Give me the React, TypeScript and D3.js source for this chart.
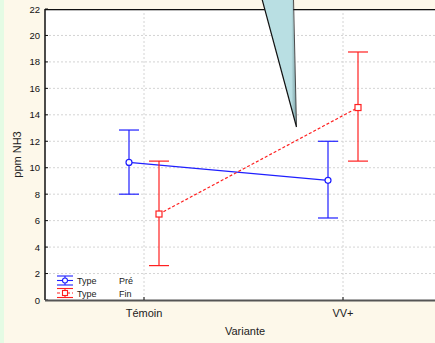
import React from "react";
import * as d3 from "d3";

const categories = ["Témoin", "VV+"];
const seriesNames = ["Pré", "Fin"];
const preMean = [10.4, 9.05];
const preLow = [8.0, 6.2];
const preHigh = [12.85, 12.0];
const finMean = [6.5, 14.55];
const finLow = [2.6, 10.5];
const finHigh = [10.5, 18.75];
const yTicks = [0, 2, 4, 6, 8, 10, 12, 14, 16, 18, 20, 22];

const W = 435, H = 343;
const left = 45, top = 9, bottom = 300, right = 435;

export default function App() {
  const y = d3.scaleLinear().domain([0, 22]).range([bottom, top]);
  const x = d3.scalePoint<string>().domain(categories).range([144, 343]);
  const off = 15;
  const series = [
    { name: seriesNames[0], mean: preMean, lo: preLow, hi: preHigh, color: "#1f1fff", dx: -off, dash: undefined as string | undefined, marker: "circle" },
    { name: seriesNames[1], mean: finMean, lo: finLow, hi: finHigh, color: "#ff2020", dx: off, dash: "3,2", marker: "square" },
  ];
  const line = d3.line<number>().x((_, i) => (x(categories[i]) as number)).y((d) => y(d));
  const font = "'Liberation Sans', Arial, sans-serif";
  return (
    <svg width={W} height={H} style={{ position: "absolute", left: 0, top: 0 }} fontFamily={font}>
      <rect x={0} y={0} width={W} height={H} fill="#fdf8ea" />
      <rect x={0} y={0} width={4} height={H} fill="#e4fbe4" />
      <rect x={left} y={top} width={right - left} height={bottom - top} fill="#ffffff" />
      {/* grid */}
      {yTicks.filter((t) => t > 0 && t < 22).map((t) => (
        <line key={t} x1={left} x2={right} y1={y(t)} y2={y(t)} stroke="#d4d4d4" strokeDasharray="2,2" strokeWidth={1} />
      ))}
      {categories.map((c) => (
        <line key={c} x1={x(c)} x2={x(c)} y1={top} y2={bottom} stroke="#d4d4d4" strokeDasharray="2,2" strokeWidth={1} />
      ))}
      {/* top border */}
      <line x1={left} x2={right} y1={top + 0.5} y2={top + 0.5} stroke="#111" strokeWidth={1.2} />
      <line x1={left} x2={right} y1={top + 1.5} y2={top + 1.5} stroke="#bbb" strokeWidth={1} />
      {/* left axis */}
      <line x1={left} x2={left} y1={top} y2={bottom} stroke="#111" strokeWidth={1.5} />
      {yTicks.map((t) => (
        <g key={t}>
          <line x1={left} x2={left + 3} y1={y(t)} y2={y(t)} stroke="#111" />
          <text x={left - 5} y={y(t) + 3.5} fontSize={9.5} textAnchor="end" fill="#111">{t}</text>
        </g>
      ))}
      {/* bottom axis */}
      <line x1={left} x2={right} y1={bottom + 0.5} y2={bottom + 0.5} stroke="#555" strokeWidth={2} />
      {categories.map((c) => (
        <g key={c}>
          <line x1={x(c)} x2={x(c)} y1={bottom - 3} y2={bottom} stroke="#111" />
          <text x={x(c)} y={bottom + 17} fontSize={11} textAnchor="middle" fill="#222">{c}</text>
        </g>
      ))}
      <text x={245} y={335} fontSize={11} textAnchor="middle" fill="#222">Variante</text>
      <text transform={`translate(21,${(top + bottom) / 2}) rotate(-90)`} fontSize={11} textAnchor="middle" fill="#222">ppm NH3</text>
      {/* series */}
      {series.map((s) => (
        <g key={s.name} transform={`translate(${s.dx},0)`}>
          <path d={line(s.mean) || ""} fill="none" stroke={s.color} strokeWidth={1.2} strokeDasharray={s.dash} />
          {categories.map((c, i) => {
            const cx = x(c) as number;
            return (
              <g key={c}>
                <line x1={cx} x2={cx} y1={y(s.lo[i])} y2={y(s.hi[i])} stroke={s.color} strokeWidth={1.2} />
                <line x1={cx - 10} x2={cx + 10} y1={y(s.lo[i])} y2={y(s.lo[i])} stroke={s.color} strokeWidth={1.2} />
                <line x1={cx - 10} x2={cx + 10} y1={y(s.hi[i])} y2={y(s.hi[i])} stroke={s.color} strokeWidth={1.2} />
                {s.marker === "circle" ? (
                  <circle cx={cx} cy={y(s.mean[i])} r={3} fill="#fff" stroke={s.color} strokeWidth={1.2} />
                ) : (
                  <rect x={cx - 3} y={y(s.mean[i]) - 3} width={6} height={6} fill="#fff" stroke={s.color} strokeWidth={1.2} />
                )}
              </g>
            );
          })}
        </g>
      ))}
      {/* legend */}
      {series.map((s, i) => {
        const ly = 280.5 + i * 12.5;
        const lx = 65;
        return (
          <g key={s.name}>
            <line x1={lx - 8} x2={lx + 8} y1={ly} y2={ly} stroke={s.color} strokeWidth={1.1} strokeDasharray={s.dash} />
            <line x1={lx} x2={lx} y1={ly - 4.5} y2={ly + 4.5} stroke={s.color} strokeWidth={1.1} />
            <line x1={lx - 8} x2={lx + 8} y1={ly - 4.5} y2={ly - 4.5} stroke={s.color} strokeWidth={1.1} />
            <line x1={lx - 8} x2={lx + 8} y1={ly + 4.5} y2={ly + 4.5} stroke={s.color} strokeWidth={1.1} />
            {s.marker === "circle" ? (
              <circle cx={lx} cy={ly} r={2.5} fill="#fff" stroke={s.color} strokeWidth={1.1} />
            ) : (
              <rect x={lx - 2.5} y={ly - 2.5} width={5} height={5} fill="#fff" stroke={s.color} strokeWidth={1.1} />
            )}
            <text x={77} y={ly + 3.5} fontSize={9} fill="#222">Type</text>
            <text x={119} y={ly + 3.5} fontSize={9} fill="#222">{s.name}</text>
          </g>
        );
      })}
      {/* callout */}
      <defs>
        <linearGradient id="cg" x1="0" x2="1" y1="0" y2="0">
          <stop offset="0" stopColor="#b9dfe3" />
          <stop offset="0.85" stopColor="#b9dfe3" />
          <stop offset="1" stopColor="#7a9ea2" />
        </linearGradient>
      </defs>
      <polygon points="262,-1 293,-1 296.5,127" fill="url(#cg)" />
      <line x1={262} y1={-1} x2={296.5} y2={127} stroke="#111" strokeWidth={1.2} />
      <line x1={293.5} y1={-1} x2={296.5} y2={127} stroke="#222" strokeWidth={0.8} />
    </svg>
  );
}
